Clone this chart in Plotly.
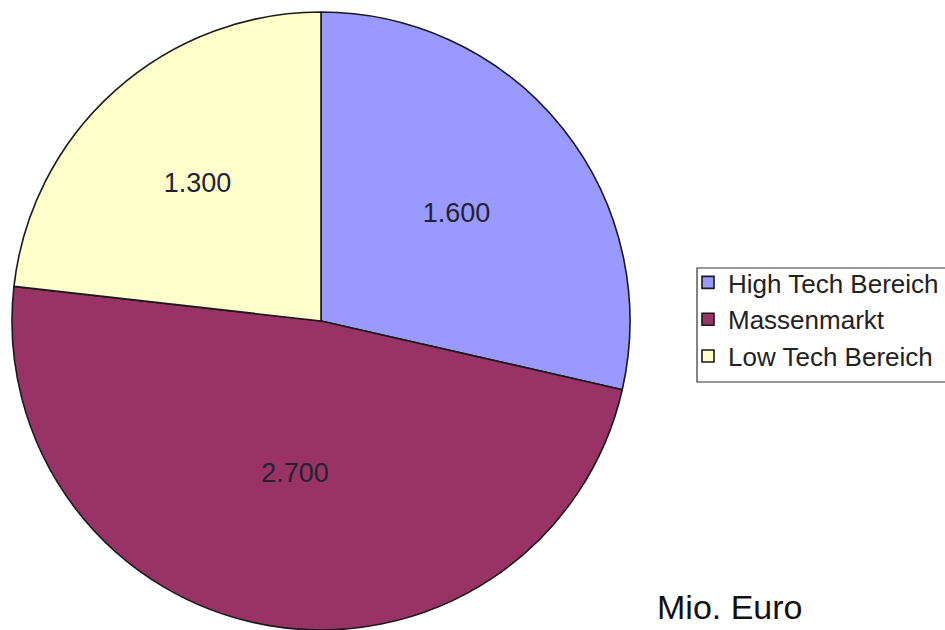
import plotly.graph_objects as go

categories = ["High Tech Bereich", "Massenmarkt", "Low Tech Bereich"]
values = [1600, 2700, 1300]
colors = ["#9999FF", "#993366", "#FFFFCC"]

W, H = 945, 630
top_m = 12
plot_h = H - top_m

fig = go.Figure(
    go.Pie(
        labels=categories,
        values=values,
        sort=False,
        direction="clockwise",
        rotation=0,
        marker=dict(colors=colors, line=dict(color="#1a1a1a", width=1.6)),
        texttemplate="%{value:,}",
        textposition="inside",
        insidetextorientation="horizontal",
        textfont=dict(family="Liberation Sans, Arial, sans-serif", size=27, color="#222233"),
        domain=dict(x=[12 / W, 630 / W], y=[0, 1]),
        hoverinfo="label+value",
    )
)

fig.update_layout(
    width=W,
    height=H,
    separators=",.",
    margin=dict(l=0, r=0, t=top_m, b=0),
    paper_bgcolor="white",
    plot_bgcolor="white",
    font=dict(family="Liberation Sans, Arial, sans-serif", color="#111111"),
    legend=dict(
        x=688 / W,
        xanchor="left",
        y=(H - 259) / plot_h,
        yanchor="top",
        borderwidth=0,
        bgcolor="rgba(0,0,0,0)",
        font=dict(size=26, color="#222222"),
        itemwidth=30,
    ),
    shapes=[
        dict(
            type="rect",
            xref="paper",
            yref="paper",
            x0=697 / W,
            x1=960 / W,
            y0=(H - 382) / plot_h,
            y1=(H - 268) / plot_h,
            line=dict(color="#333333", width=1.2),
            fillcolor="rgba(0,0,0,0)",
            layer="below",
        )
    ],
    annotations=[
        dict(
            text="Mio. Euro",
            x=655 / W,
            xanchor="left",
            xref="paper",
            y=(H - 607) / plot_h,
            yanchor="middle",
            yref="paper",
            showarrow=False,
            font=dict(size=34, color="#111111"),
        )
    ],
)

fig.write_html("out.html")
